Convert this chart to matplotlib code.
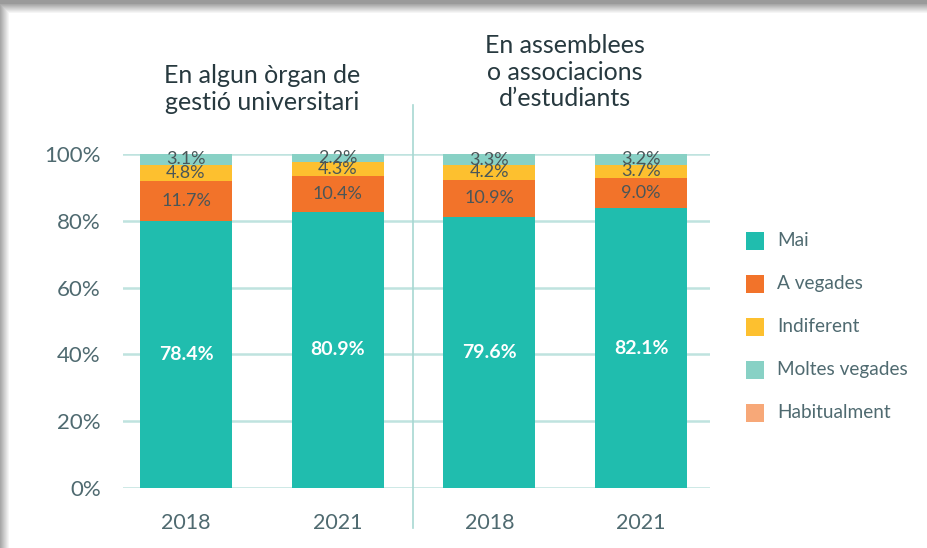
import matplotlib
matplotlib.use("Agg")
import matplotlib.pyplot as plt
from matplotlib.patches import Rectangle
import numpy as np

years = ["2018", "2021", "2018", "2021"]
groups = ["En algun òrgan de\ngestió universitari", "En assemblees\no associacions\nd\u2019estudiants"]
series_names = ["Mai", "A vegades", "Indiferent", "Moltes vegades", "Habitualment"]
mai = [78.4, 80.9, 79.6, 82.1]
a_vegades = [11.7, 10.4, 10.9, 9.0]
indiferent = [4.8, 4.3, 4.2, 3.7]
moltes = [3.1, 2.2, 3.3, 3.2]
habitualment = [0.0, 0.0, 0.0, 0.0]
colors = ["#20BDAE", "#F2732A", "#FDC02F", "#88D1C5", "#F7A878"]

plt.rcParams['font.family'] = ['Lato', 'DejaVu Sans']

W, H = 927, 548
fig = plt.figure(figsize=(W/100, H/100), dpi=100)
fig.patch.set_facecolor("#9a9a9a")
# shadow layers
n = 10
for i in range(n):
    off = n - i
    g = 0.62 + 0.38 * (i + 1) / n
    fig.patches.append(Rectangle(((10 - off)/W, 0), 1, (H - 14 + off)/H, transform=fig.transFigure,
                                 facecolor=(g, g, g), edgecolor="none", zorder=-20 + i))
fig.patches.append(Rectangle((10/W, 0), 1, (H - 14)/H, transform=fig.transFigure,
                             facecolor="white", edgecolor="none", zorder=-1))

ax = fig.add_axes([123/W, (H - 488)/H, 587/W, 334/H])
ax.set_facecolor("none")
x = np.arange(4)
data = [mai, a_vegades, indiferent, moltes, habitualment]
tot = np.sum(np.array(data), axis=0)
norm = [np.array(d) / tot * 100 for d in data]
bottom = np.zeros(4)
for k, (d, raw) in enumerate(zip(norm, data)):
    ax.bar(x, d, bottom=bottom, width=0.607, color=colors[k], zorder=3, label=series_names[k])
    for i in range(4):
        if raw[i] <= 0:
            continue
        yc = bottom[i] + d[i] / 2
        if k == 0:
            ax.text(x[i], yc, f"{raw[i]:.1f}%", ha="center", va="center", color="white",
                    fontsize=14, fontweight="bold", zorder=5)
        else:
            ax.text(x[i], yc, f"{raw[i]:.1f}%", ha="center", va="center", color="#4a5658",
                    fontsize=13, zorder=5)
    bottom += d

ax.set_xlim(-0.415, 3.454)
ax.set_ylim(0, 100)
ax.set_yticks(np.arange(0, 101, 20))
ax.set_yticklabels([f"{v}%" for v in range(0, 101, 20)])
ax.yaxis.grid(True, color="#bfe3df", linewidth=1.8, zorder=0)
ax.set_axisbelow(True)
ax.set_xticks(x)
ax.set_xticklabels(years)
for s in ax.spines.values():
    s.set_visible(False)
ax.tick_params(axis="y", length=0, labelsize=16, labelcolor="#4f6a70", pad=16)
ax.tick_params(axis="x", length=0, labelsize=15.5, labelcolor="#4f6a70", pad=18)

# divider
fig.add_artist(plt.Line2D([413/W, 413/W], [(H - 528)/H, (H - 105)/H], color="#a8d8d2", linewidth=1.2))

# group titles
fig.text(262/W, (H - 89)/H, groups[0], ha="center", va="center", fontsize=18, color="#27393f",
         linespacing=1.2)
fig.text(565/W, (H - 72)/H, groups[1], ha="center", va="center", fontsize=18, color="#27393f",
         linespacing=1.2)

# legend
ly = [241, 284, 327, 370, 413]
for k, name in enumerate(series_names):
    fig.patches.append(Rectangle((746/W, (H - ly[k] - 9)/H), 18/W, 18/H, transform=fig.transFigure,
                                 facecolor=colors[k], edgecolor="none"))
    fig.text(777/W, (H - ly[k])/H, name, ha="left", va="center", fontsize=13.7, color="#4f6a70")

fig.savefig("out.png", dpi=100)
